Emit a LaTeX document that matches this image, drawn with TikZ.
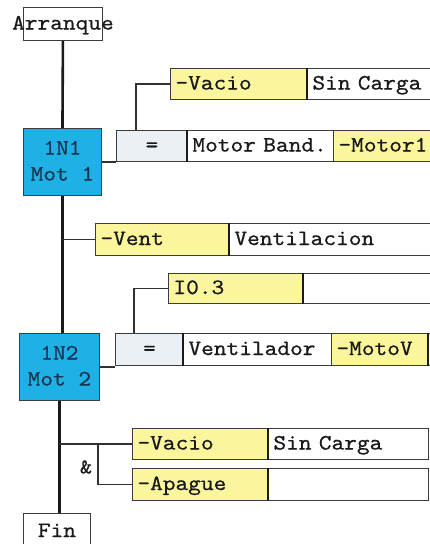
\documentclass[tikz,border=0pt]{standalone}
\usepackage{graphicx}
\usepackage{fontspec}
\newfontfamily\mymono[FakeBold=0.6,FakeStretch=1.1]{lmmono10-regular.otf}
\definecolor{cyanbox}{HTML}{1FB0E6}
\definecolor{yel}{HTML}{FBF59C}
\definecolor{eqf}{HTML}{EAF0F3}
\definecolor{ink}{HTML}{1A1A1A}
\definecolor{cyanink}{HTML}{173650}
\newcommand\mt{\fontsize{22}{28}\selectfont\mymono}
\newcommand\tx[1]{\mbox{\strut #1}}
\newcommand\bx[7]{%
  \pgfmathsetmacro\bw{#4-#2}\pgfmathsetmacro\bh{#5-#3}\pgfmathsetmacro\tw{#4-#2-10}%
  \node[bxs,#6,minimum width=\bw pt,minimum height=\bh pt,text width=\tw pt,anchor=north west] (#1) at (#2,#3) {\tx{#7}};}
\begin{document}
\begin{tikzpicture}[x=1pt,y=-1pt,
  bxs/.style={draw=ink!85,line width=0.9pt,inner xsep=5pt,inner ysep=0pt,align=left,font=\mt,text=ink},
  yb/.style={fill=yel},
  wb/.style={fill=white},
  eb/.style={fill=eqf,align=center},
  cb/.style={fill=cyanbox,align=center,text=cyanink},
  mainline/.style={draw=ink,line width=2.6pt},
  branch/.style={draw=ink!90,line width=1.3pt},
  thickedge/.style={draw=ink,line width=2.6pt}]
\useasboundingbox (0,0) rectangle (430,544);
% step boxes
\node[bxs,fill=white,minimum width=79pt,minimum height=33pt,anchor=north west] (arr) at (23,7) {\makebox[60pt]{\tx{Arranque}}};
\node[bxs,cb,minimum width=78pt,minimum height=67pt,anchor=north west] (n1) at (23,128) {\tx{1N1}\\[-2pt]\tx{Mot 1}};
\node[bxs,cb,minimum width=80pt,minimum height=67pt,anchor=north west] (n2) at (19,333) {\tx{1N2}\\[-2pt]\tx{Mot 2}};
\node[bxs,fill=white,minimum width=67pt,minimum height=36pt,anchor=north west] (fin) at (23,513) {\tx{Fin}};
% action rows
\bx{vac1}{170}{68}{307}{99}{yb}{-Vacio}
\bx{sc1}{307}{68}{445}{99}{wb}{Sin Carga}
\node[bxs,eb,minimum width=71pt,minimum height=31pt,anchor=north west] (eq1) at (116,130) {\tx{=}};
\bx{mb}{187}{130}{333}{161}{wb}{Motor Band.}
\bx{m1}{333}{130}{445}{161}{yb}{-Motor1}
\bx{vent}{95}{223}{229}{255}{yb}{-Vent}
\bx{vl}{229}{223}{445}{255}{wb}{Ventilacion}
\bx{io}{168}{273}{303}{303}{yb}{I0.3}
\bx{ioe}{303}{273}{445}{303}{wb}{}
\node[bxs,eb,minimum width=68pt,minimum height=32pt,anchor=north west] (eq2) at (115,333) {\tx{=}};
\bx{vtl}{183}{333}{331}{365}{wb}{Ventilador}
\bx{mv}{331}{333}{428}{365}{yb}{-MotoV}
\bx{mve}{428}{333}{445}{365}{wb}{}
\bx{vac2}{132}{428}{268}{459}{yb}{-Vacio}
\bx{sc2}{268}{428}{428}{459}{wb}{Sin Carga}
\bx{ap}{132}{468}{268}{500}{yb}{-Apague}
\bx{ape}{268}{468}{428}{500}{wb}{}
% thick left edges
\foreach \b in {sc1,mb,vl,ioe,vtl,mve,sc2,ape}
  \draw[thickedge] (\b.north west) -- (\b.south west);
% main chain
\draw[mainline] (arr.south) -- (n1.north);
\draw[mainline] (n1.south) -- (n1.south |- n2.north);
\draw[mainline] (n2.south) -- (n2.south |- fin.north);
% branches
\draw[branch] (n1.east) -- (eq1.west |- n1.east);
\draw[branch] ([xshift=20pt]eq1.north west) |- (vac1.west);
\draw[branch] (vent.west -| n1.south) -- (vent.west);
\draw[branch] (n2.east) -- (eq2.west |- n2.east);
\draw[branch] ([xshift=19pt]eq2.north west) |- (io.west);
\draw[branch] (vac2.west -| n2.south) -- (vac2.west);
\coordinate (andj) at (98,443);
\draw[branch] (andj) |- (ap.west);
\node[font=\fontsize{21}{24}\selectfont\mymono,text=ink,inner sep=0pt] (amp) at (86,467) {\&};
\end{tikzpicture}
\end{document}
